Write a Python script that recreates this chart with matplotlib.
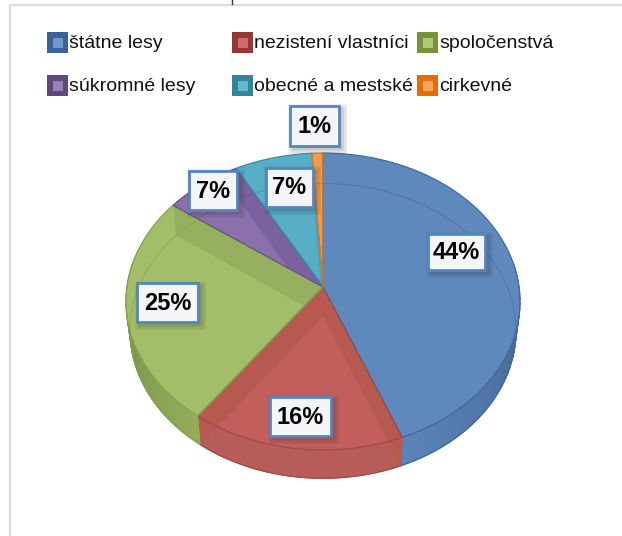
# plot.py - 3D look pie of forest ownership, drawn in pixel coords
import numpy as np
import matplotlib
matplotlib.use("Agg")
import matplotlib.pyplot as plt
from matplotlib.patches import Polygon, Rectangle
from matplotlib.path import Path
from matplotlib.colors import to_rgb

plt.rcParams["font.family"] = ["Liberation Sans", "DejaVu Sans"]

# ── Data ─────────────────────────────────────────────────────
categories = ["štátne lesy", "nezistení vlastníci", "spoločenstvá",
              "súkromné lesy", "obecné a mestské", "cirkevné"]
shares = [44, 16, 25, 7, 7, 1]

# ── Styles ───────────────────────────────────────────────────
top_colors = ["#5f88bd", "#c25f5c", "#a3be69", "#8b70ab", "#56aec7", "#f29a4c"]
wall_colors = ["#567db0", "#b65a50", "#97b05f", "#7a61a0", "#4ea2ba", "#e08a40"]
edge_colors = ["#44699c", "#a04a48", "#85a04f", "#64508a", "#3d8ba3", "#d07a30"]
side_left = ["#5b83b8", "#b85c5a", "#6f8a45", "#64508a", "#3d8ba3", "#d07a30"]
side_right = ["#3f5f8a", "#b85c5a", "#93ad5c", "#64508a", "#3d8ba3", "#d07a30"]
legend_dark = ["#3a6296", "#953735", "#76923c", "#5f497a", "#31859b", "#e46c0a"]
legend_light = ["#6f97c9", "#cf6b68", "#b0cb78", "#9880b8", "#62b8d0", "#f7a55c"]

# pie geometry: projected ellipse, top face and lower face
CX, CY, RX, RY, PERSP = 323, 287, 196, 147, 0.0976
CY_LOW, RX_LOW, RY_LOW = 316.5, 192, 146

# layout (pixels): legend swatch x / row y, label box x0, y0, x1, y1
legend_cols = [47, 232, 417]
legend_rows = [42, 85]
label_boxes = [(428, 234, 485, 270), (270, 397, 331, 436), (137, 283, 198, 322),
               (189, 171, 237, 210), (266, 168, 313, 207), (290, 106, 339, 146)]


def project(theta, low=False):
    """Angle in degrees, clockwise from the top -> pixel position on the rim."""
    t = np.radians(theta)
    w = 1 + PERSP * np.cos(t)
    if low:
        return np.column_stack([CX + RX_LOW * np.sin(t) / w,
                                CY_LOW - RY_LOW * np.cos(t) / w])
    return np.column_stack([CX + RX * np.sin(t) / w, CY - RY * np.cos(t) / w])


def mix(c1, c2, f):
    return tuple((1 - f) * np.array(to_rgb(c1)) + f * np.array(to_rgb(c2)))


fig = plt.figure(figsize=(6.22, 5.36), dpi=100)
ax = fig.add_axes([0, 0, 1, 1])
ax.set_xlim(0, 622)
ax.set_ylim(536, 0)
ax.axis("off")

# frame and the cut-off letter above it
ax.plot([10, 10, 622], [536, 5, 5], color="#dddddd", lw=1.6, zorder=1)
ax.plot([232, 232], [0, 4], color="#333333", lw=1.0, zorder=1)

edges = np.concatenate([[0], np.cumsum(shares)]) * 3.6
apex = np.array([[CX, CY]])
apex_low = np.array([[CX, CY_LOW]])

# ── Outer wall, thin strips for the shading ──────────────────
side_regions = []
for i in range(len(shares)):
    a0, a1 = max(edges[i], 80), min(edges[i + 1], 280)
    region = None
    if a1 > a0:
        angles = np.linspace(a0, a1, 40)
        for j in range(len(angles) - 1):
            seg = np.linspace(angles[j], angles[j + 1], 3)
            pts = np.vstack([project(seg), project(seg, low=True)[::-1]])
            # strip order runs right to left, colours are set left to right
            f = 1 - (j + 0.5) / (len(angles) - 1)
            col = mix(side_left[i], side_right[i], f)
            ax.add_patch(Polygon(pts, closed=True, fc=col, ec=col, lw=0.8,
                                 zorder=2))
        arc = np.linspace(a0, a1, 60)
        region = np.vstack([project(arc), project(arc, low=True)[::-1]])
        ax.plot(*project(arc, low=True).T, color=edge_colors[i], lw=0.8, zorder=3)
    side_regions.append(region)

# ── Top face, inner walls seen through it ────────────────────
for i in range(len(shares)):
    arc = np.linspace(edges[i], edges[i + 1], 120)
    top = np.vstack([apex, project(arc)])
    ax.add_patch(Polygon(top, closed=True, fc=top_colors[i], lw=0, zorder=3))

    # clip area: the slice with its wall
    polys = [Path(np.vstack([top, top[:1]]), closed=True)]
    if side_regions[i] is not None:
        polys.append(Path(np.vstack([side_regions[i], side_regions[i][:1]]),
                          closed=True))
    clip = Path.make_compound_path(*polys)

    for ang in (edges[i], edges[i + 1]):
        a = np.array([ang])
        wall = np.vstack([apex, project(a), project(a, low=True), apex_low])
        p = Polygon(wall, closed=True, fc=wall_colors[i], lw=0, zorder=4)
        ax.add_patch(p)
        p.set_clip_path(clip, ax.transData)

    # back rim of the lower face, faint through the top
    full = np.linspace(0, 360, 361)
    line, = ax.plot(*project(full, low=True).T, color=edge_colors[i], lw=0.7,
                    alpha=0.55, zorder=5)
    line.set_clip_path(clip, ax.transData)

    ax.add_patch(Polygon(top, closed=True, fc="none", ec=edge_colors[i], lw=0.9,
                         zorder=6))

# ── Legend ───────────────────────────────────────────────────
for i, name in enumerate(categories):
    x = legend_cols[i % 3]
    y = legend_rows[i // 3]
    ax.add_patch(Rectangle((x, y - 10), 21, 21, fc=legend_dark[i], lw=0, zorder=7))
    ax.add_patch(Rectangle((x + 5.5, y - 4.5), 10, 10, fc=legend_light[i], lw=0,
                           zorder=8))
    ax.text(x + 22, y + 1.5, name, fontsize=14, color="#111111", ha="left",
            va="center", zorder=8)

# ── Data labels ──────────────────────────────────────────────
for v, (x0, y0, x1, y1) in zip(shares, label_boxes):
    w, h = x1 - x0, y1 - y0
    # soft shadow, a few growing layers
    for grow in (5, 3.5, 2, 1):
        ax.add_patch(Rectangle((x0 + 3 - grow, y0 + 3 - grow), w + 2 * grow,
                               h + 2 * grow, fc="#333333", alpha=0.07, lw=0,
                               zorder=9))
    ax.add_patch(Rectangle((x0, y0), w, h, fc="#f3f5f8", ec="#5585c0", lw=2.0,
                           zorder=10))
    ax.text((x0 + x1) / 2, (y0 + y1) / 2 + 0.5, f"{v}%", fontsize=17,
            fontweight="bold", color="black", ha="center", va="center", zorder=11)

fig.savefig("out.png", dpi=100)
